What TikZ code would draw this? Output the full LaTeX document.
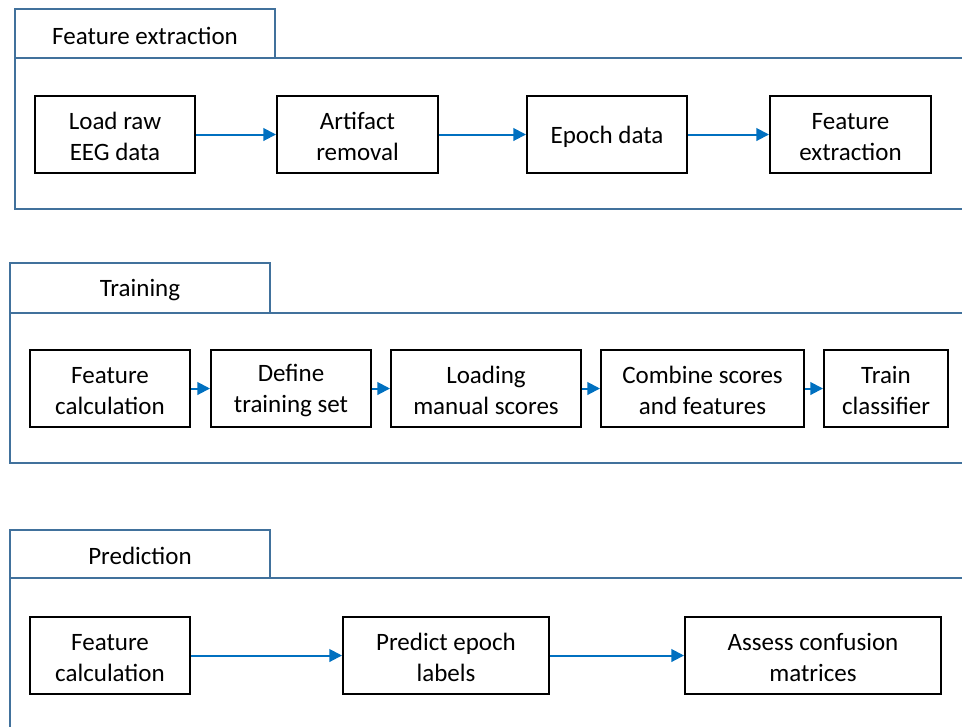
\documentclass[tikz,border=0pt]{standalone}
\usepackage{fontspec}
\setmainfont{Carlito}
\usetikzlibrary{arrows.meta,fit}
\definecolor{framecol}{HTML}{41719C}
\definecolor{arrowcol}{HTML}{0070C0}
\tikzset{
  stepbox/.style={draw=black, line width=1.5pt, inner sep=0pt},
  tab/.style={draw=framecol, line width=1.5pt, inner sep=0pt},
  txt/.style={align=center, inner sep=0pt, yshift=-1.6pt,
    font=\fontsize{18.75pt}{23.25pt}\selectfont},
  panel/.style={draw=framecol, line width=1.5pt},
  flow/.style={draw=arrowcol, line width=1.5pt,
    -{Triangle[length=9.5pt,width=9.5pt]}},
}
\begin{document}
\begin{tikzpicture}[x=0.75pt,y=-0.75pt]
\useasboundingbox (0,0) rectangle (962,726);
\clip (0,0) rectangle (962,726);

% ---- Feature extraction panel ----
\draw[panel] (15,58) rectangle (990,209);
\node[tab, fit={(15,9) (275,58)}] (tabA) {};
\node[txt] (tabAtxt) at (tabA) {Feature extraction};
\node[stepbox, fit={(35,96) (195,173)}] (load) {};
\node[txt] (loadtxt) at (load) {Load raw\\EEG data};
\node[stepbox, fit={(277,96) (438,173)}] (artifact) {};
\node[txt] (artifacttxt) at (artifact) {Artifact\\removal};
\node[stepbox, fit={(527,96) (687,173)}] (epoch) {};
\node[txt] (epochtxt) at (epoch) {Epoch data};
\node[stepbox, fit={(770,96) (931,173)}] (featx) {};
\node[txt] (featxtxt) at (featx) {Feature\\extraction};
\draw[flow] (load.east) -- (artifact.west);
\draw[flow] (artifact.east) -- (epoch.west);
\draw[flow] (epoch.east) -- (featx.west);

% ---- Training panel ----
\draw[panel] (10,313) rectangle (990,463);
\node[tab, fit={(10,263) (270,313)}] (tabB) {};
\node[txt] (tabBtxt) at (tabB) {Training};
\node[stepbox, fit={(30,350) (190,427)}] (featcalcA) {};
\node[txt] (featcalcAtxt) at (featcalcA) {Feature\\calculation};
\node[stepbox, fit={(211,350) (371,427)}] (define) {};
\node[txt] (definetxt) at (define) {Define\\training set};
\node[stepbox, fit={(391,350) (581,427)}] (manual) {};
\node[txt] (manualtxt) at (manual) {Loading\\manual scores};
\node[stepbox, fit={(601,350) (804,427)}] (combine) {};
\node[txt] (combinetxt) at (combine) {Combine scores\\and features};
\node[stepbox, fit={(824,350) (948,427)}] (train) {};
\node[txt] (traintxt) at (train) {Train\\classifier};
\draw[flow] (featcalcA.east) -- (define.west);
\draw[flow] (define.east) -- (manual.west);
\draw[flow] (manual.east) -- (combine.west);
\draw[flow] (combine.east) -- (train.west);

% ---- Prediction panel ----
\draw[panel] (10,578) rectangle (990,760);
\node[tab, fit={(10,530) (270,578)}] (tabC) {};
\node[txt] (tabCtxt) at (tabC) {Prediction};
\node[stepbox, fit={(30,617) (190,694)}] (featcalcB) {};
\node[txt] (featcalcBtxt) at (featcalcB) {Feature\\calculation};
\node[stepbox, fit={(343,617) (549,694)}] (predict) {};
\node[txt] (predicttxt) at (predict) {Predict epoch\\labels};
\node[stepbox, fit={(685,617) (941,694)}] (assess) {};
\node[txt] (assesstxt) at (assess) {Assess confusion\\matrices};
\draw[flow] (featcalcB.east) -- (predict.west);
\draw[flow] (predict.east) -- (assess.west);
\end{tikzpicture}
\end{document}
